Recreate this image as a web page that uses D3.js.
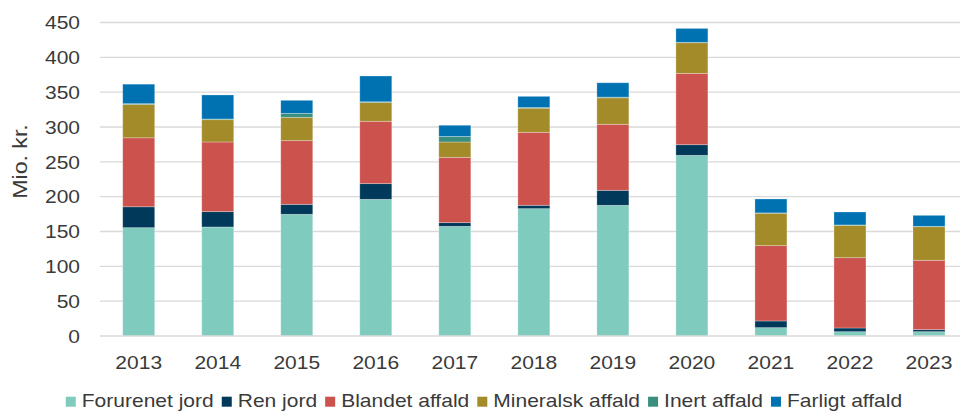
<!DOCTYPE html>
<html>
<head>
<meta charset="utf-8">
<script src="https://cdn.jsdelivr.net/npm/d3@7"></script>
<style>
  html, body { margin: 0; padding: 0; background: #fff; }
  svg { display: block; }
  text { font-family: "Liberation Sans", Arial, sans-serif; fill: #3a3a3a; }
</style>
</head>
<body>
<svg id="chart" width="960" height="412"></svg>
<script>
const years = ["2013","2014","2015","2016","2017","2018","2019","2020","2021","2022","2023"];
const seriesNames = ["Forurenet jord","Ren jord","Blandet affald","Mineralsk affald","Inert affald","Farligt affald"];
const colors = ["#7fccbe","#00395a","#cc524e","#a38b2a","#3a8e7e","#0072b2"];
const forurenetJord   = [155.5, 156.5, 174.7, 196.2, 157.4, 182.8, 187.6, 259.3, 12.0, 6.2, 6.2];
const renJord         = [30.0, 22.0, 14.3, 22.5, 5.3, 4.8, 21.5, 15.3, 9.6, 5.3, 2.9];
const blandetAffald   = [99.0, 100.0, 91.4, 89.5, 93.8, 104.8, 94.8, 102.4, 108.1, 100.9, 99.6];
const mineralskAffald = [48.0, 32.0, 33.5, 27.0, 22.0, 34.6, 38.0, 44.0, 46.5, 46.5, 48.2];
const inertAffald     = [1.0, 1.0, 5.7, 1.0, 8.0, 1.0, 1.0, 0.5, 0.5, 0.5, 0.5];
const farligtAffald   = [28.0, 34.5, 18.7, 37.0, 16.0, 16.0, 20.6, 20.0, 20.0, 18.6, 15.8];
const yTicks = [0, 50, 100, 150, 200, 250, 300, 350, 400, 450];
const yTitle = "Mio. kr.";

const seriesValues = [forurenetJord, renJord, blandetAffald, mineralskAffald, inertAffald, farligtAffald];
const rows = years.map((y, i) => {
  const r = { year: y };
  seriesNames.forEach((s, k) => r[s] = seriesValues[k][i]);
  return r;
});

const svg = d3.select("#chart");
const SX = 1.13;

const y = d3.scaleLinear().domain([0, 450]).range([336, 22.5]);
const x = d3.scaleBand().domain(years).range([99.2, 968.5]).paddingInner(0.595).paddingOuter(0.2975);

// gridlines
svg.append("g").selectAll("line").data(yTicks.filter(d => d > 0)).join("line")
  .attr("x1", 100).attr("x2", 960)
  .attr("y1", d => y(d)).attr("y2", d => y(d))
  .attr("stroke", "#d9d9d9").attr("stroke-width", 1.3);

// bars
const stack = d3.stack().keys(seriesNames)(rows);
svg.append("g").selectAll("g").data(stack).join("g")
  .attr("fill", (d, i) => colors[i])
  .selectAll("rect").data(d => d).join("rect")
  .attr("x", d => x(d.data.year))
  .attr("width", x.bandwidth())
  .attr("y", d => y(d[1]))
  .attr("height", d => Math.max(0, y(d[0]) - y(d[1])))
  .attr("stroke", "rgba(255,255,255,0.35)")
  .attr("stroke-width", 0.8);

// baseline
svg.append("line").attr("x1", 100).attr("x2", 960).attr("y1", y(0)).attr("y2", y(0))
  .attr("stroke", "#d9d9d9").attr("stroke-width", 1.3);

// y tick labels
svg.append("g").selectAll("text").data(yTicks).join("text")
  .attr("transform", d => `translate(80,${y(d) + 6.7}) scale(${SX},1)`)
  .attr("text-anchor", "end")
  .style("font-size", "18.6px")
  .text(d => d);

// x labels
svg.append("g").selectAll("text").data(years).join("text")
  .attr("transform", d => `translate(${x(d) + x.bandwidth() / 2},369) scale(${SX},1)`)
  .attr("text-anchor", "middle")
  .style("font-size", "18.6px")
  .text(d => d);

// y title
svg.append("text")
  .attr("transform", `translate(26.8,161.5) rotate(-90) scale(${SX},1)`)
  .attr("text-anchor", "middle")
  .style("font-size", "20.5px")
  .text(yTitle);

// legend
const lg = svg.append("g");
const items = lg.selectAll("g").data(seriesNames).join("g");
items.append("rect").attr("width", 10).attr("height", 10).attr("y", 396.7)
  .attr("fill", (d, i) => colors[i]);
const texts = items.append("text")
  .style("font-size", "18.6px")
  .text(d => d);
let cx = 0;
const layout = [];
texts.each(function() {
  const w = this.getComputedTextLength() * SX;
  layout.push({ sx: cx, tx: cx + 16 });
  cx += 16 + w + 8;
});
const total = cx - 8;
const start = 484 - total / 2;
items.select("rect").attr("x", (d, i) => start + layout[i].sx);
items.select("text").attr("transform", (d, i) => `translate(${start + layout[i].tx},407.3) scale(${SX},1)`);
</script>
</body>
</html>
